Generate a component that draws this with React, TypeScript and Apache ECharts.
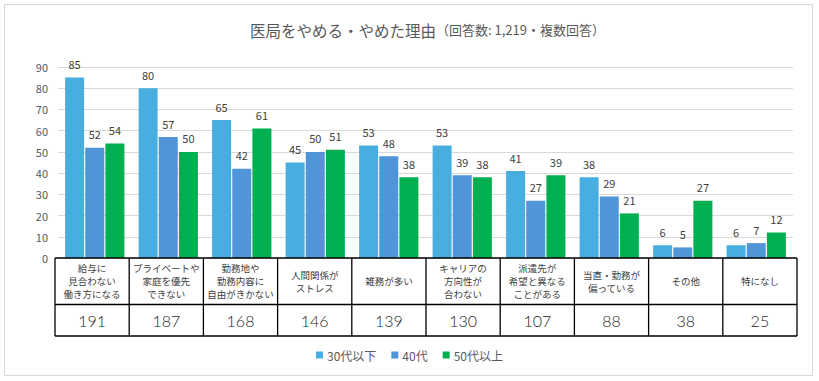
import React, { useEffect, useRef } from "react";
import * as echarts from "echarts";

const categories = [
  "給与に\n見合わない\n働き方になる",
  "プライベートや\n家庭を優先\nできない",
  "勤務地や\n勤務内容に\n自由がきかない",
  "人間関係が\nストレス",
  "雑務が多い",
  "キャリアの\n方向性が\n合わない",
  "派遣先が\n希望と異なる\nことがある",
  "当直・勤務が\n偏っている",
  "その他",
  "特になし",
];
const totals = [191, 187, 168, 146, 139, 130, 107, 88, 38, 25];
const seriesNames = ["30代以下", "40代", "50代以上"];
const under30s = [85, 80, 65, 45, 53, 53, 41, 38, 6, 6];
const forties = [52, 57, 42, 50, 48, 39, 27, 29, 5, 7];
const over50s = [54, 50, 61, 51, 38, 38, 39, 21, 27, 12];
const colors = ["#47AEDF", "#4F95D8", "#00B050"];
const titleMain = "医局をやめる・やめた理由";
const titleSub = "（回答数: 1,219・複数回答）";

const FONT = '"Noto Sans CJK JP", "Noto Sans", sans-serif';

export default function App() {
  const ref = useRef<HTMLDivElement>(null);
  useEffect(() => {
    if (!ref.current) return;
    const chart = echarts.init(ref.current, null, { renderer: "svg" });

    const tLeft = 55;
    const tRight = 797;
    const tTop = 258;
    const tMid = 304.5;
    const tBottom = 336;
    const colW = (tRight - tLeft) / categories.length;
    const graphics: any[] = [
      {
        type: "rect",
        shape: { x: 4.5, y: 4.5, width: 808, height: 371 },
        style: { fill: "none", stroke: "#D9D9D9", lineWidth: 1 },
        silent: true,
      },
    ];
    const lineStyle = { stroke: "#000", lineWidth: 1.3 };
    [tTop, tMid, tBottom].forEach((y) =>
      graphics.push({ type: "line", shape: { x1: tLeft, y1: y, x2: tRight, y2: y }, style: lineStyle, z: 10 })
    );
    for (let i = 0; i <= categories.length; i++) {
      const x = tLeft + i * colW;
      graphics.push({ type: "line", shape: { x1: x, y1: tTop, x2: x, y2: tBottom }, style: lineStyle, z: 10 });
    }
    categories.forEach((c, i) => {
      const cx = tLeft + (i + 0.5) * colW;
      graphics.push({
        type: "text",
        x: cx,
        y: (tTop + tMid) / 2,
        style: {
          text: c,
          fill: "#404040",
          font: `9.5px ${FONT}`,
          align: "center",
          verticalAlign: "middle",
          lineHeight: 13,
        },
        z: 10,
      });
      graphics.push({
        type: "text",
        x: cx,
        y: (tMid + tBottom) / 2 + 0.5,
        style: {
          text: String(totals[i]),
          fill: "#262626",
          font: `normal 300 16px Lato, "Liberation Sans", sans-serif`,
          align: "center",
          verticalAlign: "middle",
        },
        z: 10,
      });
    });
    graphics.push({
      type: "text",
      left: 250,
      top: 22,
      style: {
        text: `{a|${titleMain}}{b|${titleSub}}`,
        rich: {
          a: { fontSize: 15.5, fill: "#595959", fontFamily: FONT },
          b: { fontSize: 13, fill: "#595959", fontFamily: FONT },
        },
      },
    });

    const names = [under30s, forties, over50s];
    chart.setOption({
      animation: false,
      textStyle: { fontFamily: FONT },
      grid: { left: 58, right: 26, top: 67, bottom: 123 },
      legend: {
        data: seriesNames,
        left: "center",
        top: 344,
        icon: "rect",
        itemWidth: 7,
        itemHeight: 7,
        itemGap: 15,
        textStyle: { color: "#595959", fontSize: 12, fontFamily: FONT, padding: [0, 0, 0, -1] },
      },
      xAxis: {
        type: "category",
        data: categories,
        axisLabel: { show: false },
        axisTick: { show: false },
        axisLine: { show: false },
      },
      yAxis: {
        type: "value",
        min: 0,
        max: 90,
        interval: 10,
        axisLabel: { color: "#595959", fontSize: 11, margin: 10, fontFamily: FONT },
        axisLine: { show: false },
        axisTick: { show: false },
        splitLine: { lineStyle: { color: "#D9D9D9", width: 1 } },
      },
      series: names.map((d, i) => ({
        name: seriesNames[i],
        type: "bar",
        data: d,
        barWidth: 19,
        barGap: "6%",
        itemStyle: { color: colors[i] },
        label: {
          show: true,
          position: "top",
          distance: 8,
          color: "#404040",
          fontSize: 11,
          fontFamily: FONT,
        },
      })),
      graphic: graphics,
    });
    return () => chart.dispose();
  }, []);
  return (
    <div
      ref={ref}
      style={{ position: "absolute", left: 0, top: 0, width: 819, height: 381, background: "#fff" }}
    />
  );
}
